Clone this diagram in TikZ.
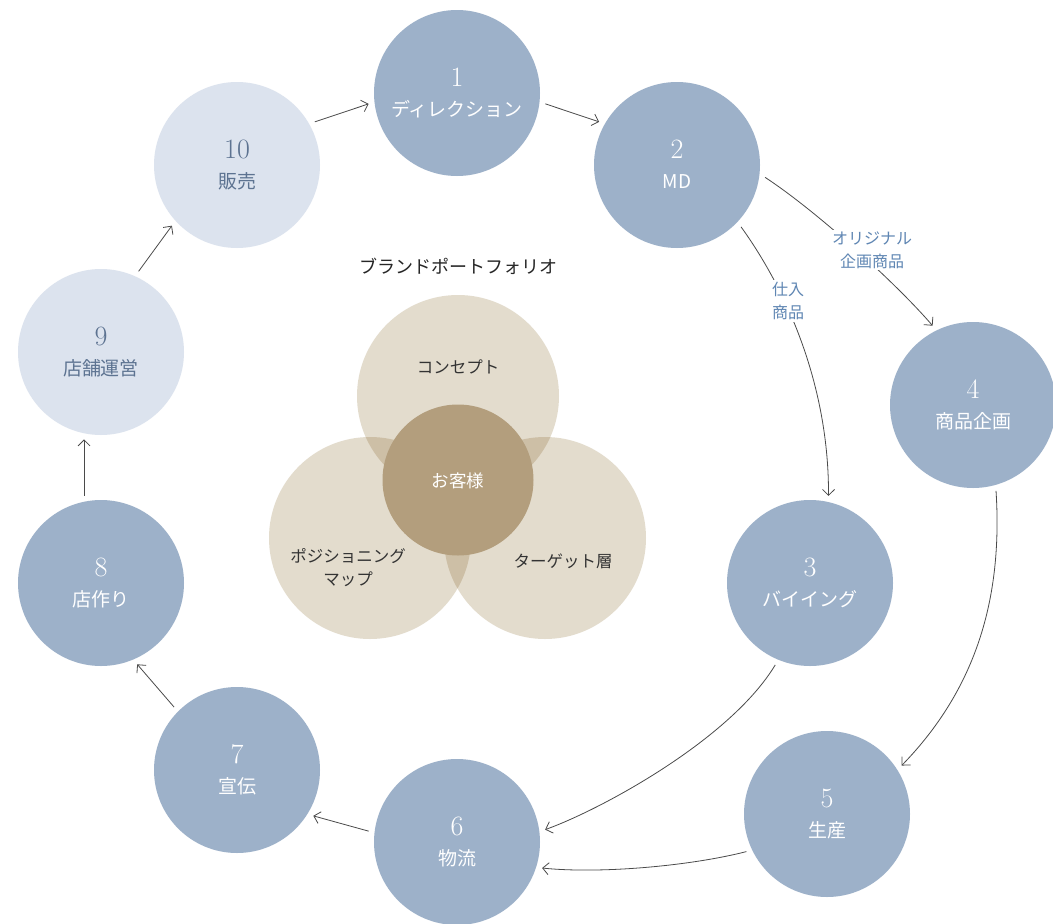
\documentclass[tikz,border=0pt]{standalone}
\usepackage{fontspec}
\newfontfamily\jp{Noto Sans CJK JP}
\usetikzlibrary{arrows.meta}
\definecolor{cblue}{HTML}{9DB1C9}
\definecolor{clight}{HTML}{DCE3EE}
\definecolor{ctxt}{HTML}{5D7391}
\definecolor{vlight}{HTML}{E3DCCD}
\definecolor{vover}{HTML}{CDBFA6}
\definecolor{vcenter}{HTML}{B39E7D}
\definecolor{elab}{HTML}{5F86B3}
\definecolor{arr}{HTML}{4A4A4A}
\tikzset{
 stagec/.style={circle, minimum size=166pt, inner sep=0pt, outer sep=6pt, fill=cblue},
 lightc/.style={stagec, fill=clight},
 numtxt/.style={font=\fontsize{28}{28}\selectfont, inner sep=0pt},
 labtxt/.style={font=\jp\fontsize{19}{19}\selectfont, inner sep=0pt},
 flow/.style={draw=arr, line width=0.8pt, -{Straight Barb[length=6pt,width=12pt]}},
 elabel/.style={font=\jp\fontsize{16}{23}\selectfont, text=elab, fill=white, align=center, inner sep=2pt},
 vtxt/.style={font=\jp\fontsize{16.5}{23}\selectfont, text=black!80, align=center, inner sep=0pt},
 vcirc/.style={circle, minimum size=202pt, inner sep=0pt, fill=vlight},
}
\newcommand\stagenode[7]{%
 \node[#6] (#1) at (#2,#3) {};
 \node[numtxt,text=#7,anchor=base] (#1n) at (#2,#3-7) {#4};
 \node[labtxt,text=#7,anchor=base] (#1l) at (#2,#3+23) {#5};}
\begin{document}
\begin{tikzpicture}[x=1pt,y=-1pt]
\useasboundingbox (0,0) rectangle (1053,924);
\fill[white] (0,0) rectangle (1053,924);
% stages
\stagenode{n1}{457}{93}{1}{ディレクション}{stagec}{white}
\stagenode{n2}{677}{165}{2}{MD}{stagec}{white}
\stagenode{n3}{810}{583}{3}{バイイング}{stagec}{white}
\stagenode{n4}{973}{405}{4}{商品企画}{stagec}{white}
\stagenode{n5}{827}{814}{5}{生産}{stagec}{white}
\stagenode{n6}{457}{842}{6}{物流}{stagec}{white}
\stagenode{n7}{237}{770}{7}{宣伝}{stagec}{white}
\stagenode{n8}{101}{583}{8}{店作り}{stagec}{white}
\stagenode{n9}{101}{352}{9}{店舗運営}{lightc}{ctxt}
\stagenode{n10}{237}{165}{10}{販売}{lightc}{ctxt}
% venn
\node[vcirc] (vt) at (458,396) {};
\node[vcirc] (vl) at (370,538) {};
\node[vcirc] (vr) at (545,538) {};
\begin{scope}
 \clip (458,396) circle[radius=101];
 \fill[vover] (370,538) circle[radius=101];
 \fill[vover] (545,538) circle[radius=101];
\end{scope}
\begin{scope}
 \clip (370,538) circle[radius=101];
 \fill[vover] (545,538) circle[radius=101];
\end{scope}
\node[circle, minimum size=151pt, inner sep=0pt, fill=vcenter] (vc) at (458,480) {};
\node[font=\jp\fontsize{17.5}{17.5}\selectfont, text=white] (vct) at (458,481) {お客様};
\node[vtxt] (vtt) at (458,367) {コンセプト};
\node[vtxt] (vlt) at (348,568) {ポジショニング\\マップ};
\node[vtxt] (vrt) at (563,561) {ターゲット層};
\node[font=\jp\fontsize{18}{18}\selectfont, text=black!85] (title) at (458,266) {ブランドポートフォリオ};
% connectors
\draw[flow] (n1.-7) -- (n2.151);
\draw[flow] (n10.29) -- (n1.-173);
\draw[flow] (n9.65) -- (n10.-137);
\draw[flow] (n8.101) -- (n9.-101);
\draw[flow] (n7.135) -- (n8.-66);
\draw[flow] (n6.173) -- (n7.-31);
\draw[flow] (n5.-155) .. controls (690,866) and (600,874) .. (n6.-17);
\draw[flow] (n3.-113) .. controls (730,740) and (600,810) .. (n6.8);
\draw[flow] (n2.-44) .. controls (788,292) and (829,387) .. (n3.78);
\draw[flow] (n2.-8) .. controls (815,210) and (895,282) .. (n4.117);
\draw[flow] (n4.-75) .. controls (1003,600) and (975,690) .. (n5.33);
% edge labels
\node[elabel] (e24) at (872,250) {オリジナル\\企画商品};
\node[elabel] (e23) at (788,301) {仕入\\商品};
\end{tikzpicture}
\end{document}
